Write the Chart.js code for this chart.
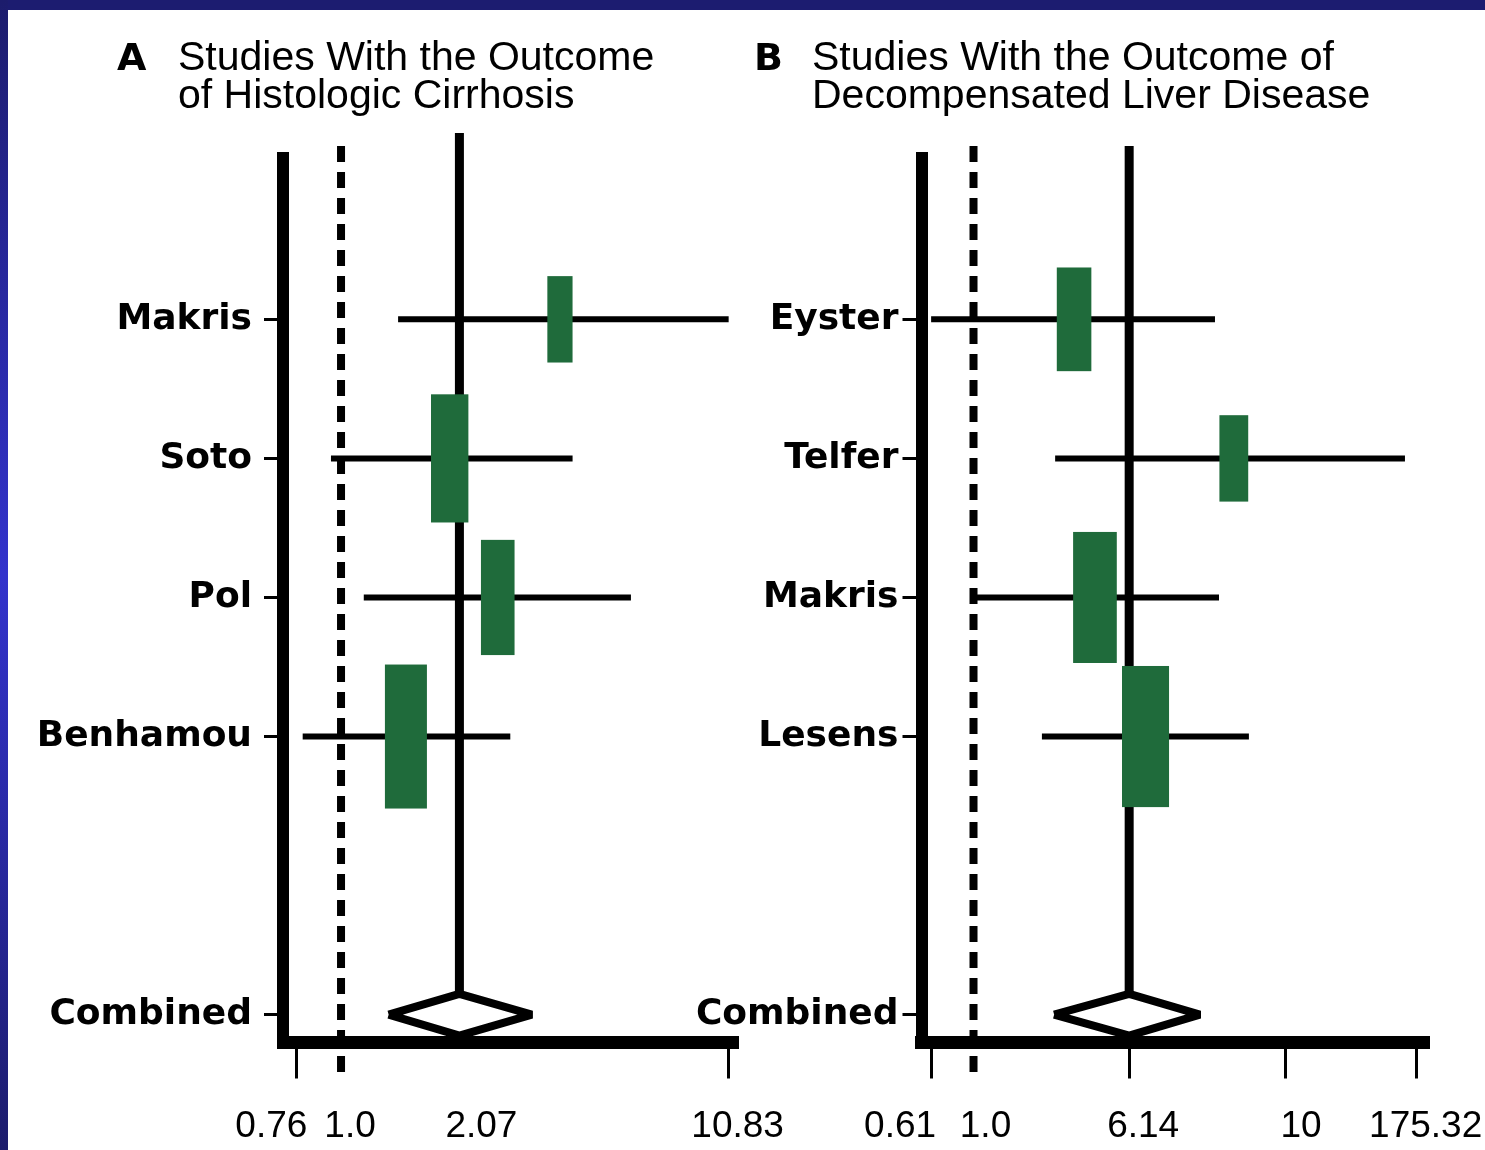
<!DOCTYPE html>
<html>
<head>
<meta charset="utf-8">
<script src="https://cdn.jsdelivr.net/npm/chart.js@4.4.1/dist/chart.umd.min.js"></script>
<style>
  html, body { margin: 0; padding: 0; background: #fff; }
  #page { position: relative; width: 1485px; height: 1150px; overflow: hidden; background: #fff; }
  #topbar { position: absolute; left: 0; top: 0; width: 1485px; height: 10px; background: #1c1c70; }
  #leftbar { position: absolute; left: 0; top: 0; width: 8px; height: 1150px;
    background: linear-gradient(to bottom, #1c1c6c 0%, #2a2aa8 30%, #3333cc 50%, #2a2aa8 70%, #1c1c6c 100%); }
  .letter { position: absolute; font: bold 38px "DejaVu Sans", sans-serif; line-height: 38px; color: #000; }
  .title { position: absolute; font: 41px "Liberation Sans", Arial, sans-serif; line-height: 38px; color: #000; white-space: nowrap; }
  canvas { position: absolute; top: 0; }
</style>
</head>
<body>
<div id="page">
  <canvas id="cA" width="790" height="1150" style="left:0px"></canvas>
  <canvas id="cB" width="825" height="1150" style="left:660px"></canvas>
  <div class="letter" style="left:117px; top:38px;">A</div>
  <div class="title" style="left:178px; top:37px;">Studies With the Outcome<br>of Histologic Cirrhosis</div>
  <div class="letter" style="left:754px; top:38px;">B</div>
  <div class="title" style="left:812px; top:37px;">Studies With the Outcome of<br>Decompensated Liver Disease</div>
  <div id="topbar"></div>
  <div id="leftbar"></div>
</div>
<script>
// ================= DATA =================
// Panel A: studies with the outcome of histologic cirrhosis
const studiesA   = ['Makris', 'Soto', 'Pol', 'Benhamou'];
const estimateA  = [3.84, 1.95, 2.62, 1.49];
const lowerA     = [1.42, 0.94, 1.15, 0.79];
const upperA     = [10.83, 4.15, 5.94, 2.83];
const weightA    = [0.60, 0.89, 0.80, 1.00];      // relative study weight (box size)
const combinedA  = [1.34, 2.07, 3.23];            // lower, pooled estimate, upper
const tickValuesA = [0.76, 1.0, 2.07, 10.83];
const tickLabelsA = ['0.76', '1.0', '2.07', '10.83'];

// Panel B: studies with the outcome of decompensated liver disease
const studiesB   = ['Eyster', 'Telfer', 'Makris', 'Lesens'];
const estimateB  = [3.23, 20.8, 4.12, 7.43];
const lowerB     = [0.61, 2.59, 0.96, 2.22];
const upperB     = [16.7, 153, 17.5, 24.8];
const weightB    = [0.72, 0.60, 0.91, 0.98];
const combinedB  = [2.56, 6.14, 14.0];
// the printed "10" tick sits where the figure places it on its axis
const tickValuesB = [0.61, 1.0, 6.14, 37.8, 175.32];
const tickLabelsB = ['0.61', '1.0', '6.14', '10', '175.32'];

// ================= STYLE / LAYOUT =================
const GREEN = '#1f6b3b';
const DIAMOND_HALF = 0.15;   // half height of pooled diamond, in row units
const Y_MIN = -1.16, Y_MAX = 5.2;
const TICK_FONT = '37px "Liberation Sans", Arial, sans-serif';

Chart.defaults.font.family = '"DejaVu Sans", sans-serif';
Chart.defaults.color = '#000';

const layoutA = { canvas: 'cA', yAxisWidth: 283, padRight: 53, xMin: 0.7175, xMax: 11.40,
  labelPad: 12, boxW: 42, boxH: 144, noMark: [1.0, 2.07], solidAbove: 25,
  labelNudge: [-25, 9, 22, 9] };
const layoutB = { canvas: 'cB', yAxisWidth: 261.5, padRight: 56.5, xMin: 0.5453, xMax: 201.3,
  labelPad: 4, boxW: 48, boxH: 144, noMark: [1.0], solidAbove: 12,
  labelNudge: [-31, 12, 14, 16, 9] };

function buildPanel(cfg, d) {
  const n = d.studies.length;
  const combRow = n + 1;
  const rows = d.studies.map((_, i) => i).concat([combRow]);
  const rowLabels = d.studies.concat(['Combined']);

  const datasets = d.studies.map((s, i) => ({
    label: s,
    data: [{ x: d.lower[i], y: i }, { x: d.upper[i], y: i }],
    showLine: true, borderColor: '#000', borderWidth: 6, borderCapStyle: 'butt',
    pointRadius: 0, pointHoverRadius: 0
  }));
  const c = d.combined;
  datasets.push({
    label: 'Combined',
    data: [
      { x: c[0], y: combRow }, { x: c[1], y: combRow - DIAMOND_HALF },
      { x: c[2], y: combRow }, { x: c[1], y: combRow + DIAMOND_HALF },
      { x: c[0], y: combRow }
    ],
    showLine: true, borderColor: '#000', borderWidth: 8, borderJoinStyle: 'bevel',
    backgroundColor: '#fff', fill: 'shape', pointRadius: 0, pointHoverRadius: 0
  });

  const refLines = {
    id: 'refLines',
    beforeDatasetsDraw(chart) {
      const { ctx, chartArea: ca, scales: { x, y } } = chart;
      const xNull = x.getPixelForValue(1);
      const xPool = x.getPixelForValue(c[1]);
      ctx.save();
      ctx.strokeStyle = '#000';
      ctx.lineWidth = 8;
      ctx.setLineDash([16, 10]);
      ctx.beginPath(); ctx.moveTo(xNull, ca.top - 12); ctx.lineTo(xNull, ca.bottom + 36); ctx.stroke();
      ctx.setLineDash([]);
      ctx.lineWidth = 9;
      ctx.beginPath(); ctx.moveTo(xPool, ca.top - cfg.solidAbove); ctx.lineTo(xPool, y.getPixelForValue(combRow)); ctx.stroke();
      ctx.restore();
    }
  };
  const boxes = {
    id: 'studyBoxes',
    afterDatasetsDraw(chart) {
      const { ctx, scales: { x, y } } = chart;
      ctx.save();
      ctx.fillStyle = GREEN;
      d.estimate.forEach((v, i) => {
        const cx = x.getPixelForValue(v), cy = y.getPixelForValue(i);
        const w = d.weight[i] * cfg.boxW, h = d.weight[i] * cfg.boxH;
        ctx.fillRect(cx - w / 2, cy - h / 2, w, h);
      });
      ctx.restore();
    }
  };
  // x tick labels: the figure prints them slightly off their tick marks
  const xLabels = {
    id: 'xTickLabels',
    afterDraw(chart) {
      const { ctx, chartArea: ca, scales: { x } } = chart;
      ctx.save();
      ctx.font = TICK_FONT;
      ctx.fillStyle = '#000';
      ctx.textAlign = 'center';
      ctx.textBaseline = 'alphabetic';
      d.tickValues.forEach((v, i) => {
        ctx.fillText(d.tickLabels[i], x.getPixelForValue(v) + cfg.labelNudge[i], ca.bottom + 94.5);
      });
      ctx.restore();
    }
  };

  return new Chart(document.getElementById(cfg.canvas), {
    type: 'scatter',
    data: { datasets },
    plugins: [refLines, boxes, xLabels],
    options: {
      responsive: false, animation: false, devicePixelRatio: 1,
      layout: { padding: { left: 0, right: cfg.padRight, top: 158, bottom: 0 } },
      plugins: { legend: { display: false }, tooltip: { enabled: false } },
      scales: {
        x: {
          type: 'logarithmic', min: cfg.xMin, max: cfg.xMax,
          afterBuildTicks: s => { s.ticks = d.tickValues.map(v => ({ value: v })); },
          afterFit: s => { s.height = 107.5; s.paddingLeft = 0; s.paddingRight = 0; },
          ticks: { display: false, autoSkip: false, maxRotation: 0, minRotation: 0,
                   callback: (v, i) => d.tickLabels[i] },
          grid: { display: true, drawOnChartArea: false, drawTicks: true, tickLength: 36, lineWidth: 3,
                  color: ctx => (ctx.tick && cfg.noMark.includes(ctx.tick.value)) ? 'rgba(0,0,0,0)' : '#000' },
          border: { display: true, color: '#000', width: 13 }
        },
        y: {
          type: 'linear', reverse: true, min: Y_MIN, max: Y_MAX,
          afterBuildTicks: s => { s.ticks = rows.map(v => ({ value: v })); },
          afterFit: s => { s.width = cfg.yAxisWidth; s.paddingTop = 0; s.paddingBottom = 0; },
          ticks: { autoSkip: false, padding: cfg.labelPad, color: '#000',
                   font: { size: 36, weight: 'bold', family: '"DejaVu Sans", sans-serif' },
                   callback: (v, i) => rowLabels[i] },
          grid: { display: true, drawOnChartArea: false, drawTicks: true, tickLength: 19, lineWidth: 3, color: '#000' },
          border: { display: true, color: '#000', width: 12 }
        }
      }
    }
  });
}

buildPanel(layoutA, { studies: studiesA, estimate: estimateA, lower: lowerA, upper: upperA,
  weight: weightA, combined: combinedA, tickValues: tickValuesA, tickLabels: tickLabelsA });
buildPanel(layoutB, { studies: studiesB, estimate: estimateB, lower: lowerB, upper: upperB,
  weight: weightB, combined: combinedB, tickValues: tickValuesB, tickLabels: tickLabelsB });
</script>
</body>
</html>
